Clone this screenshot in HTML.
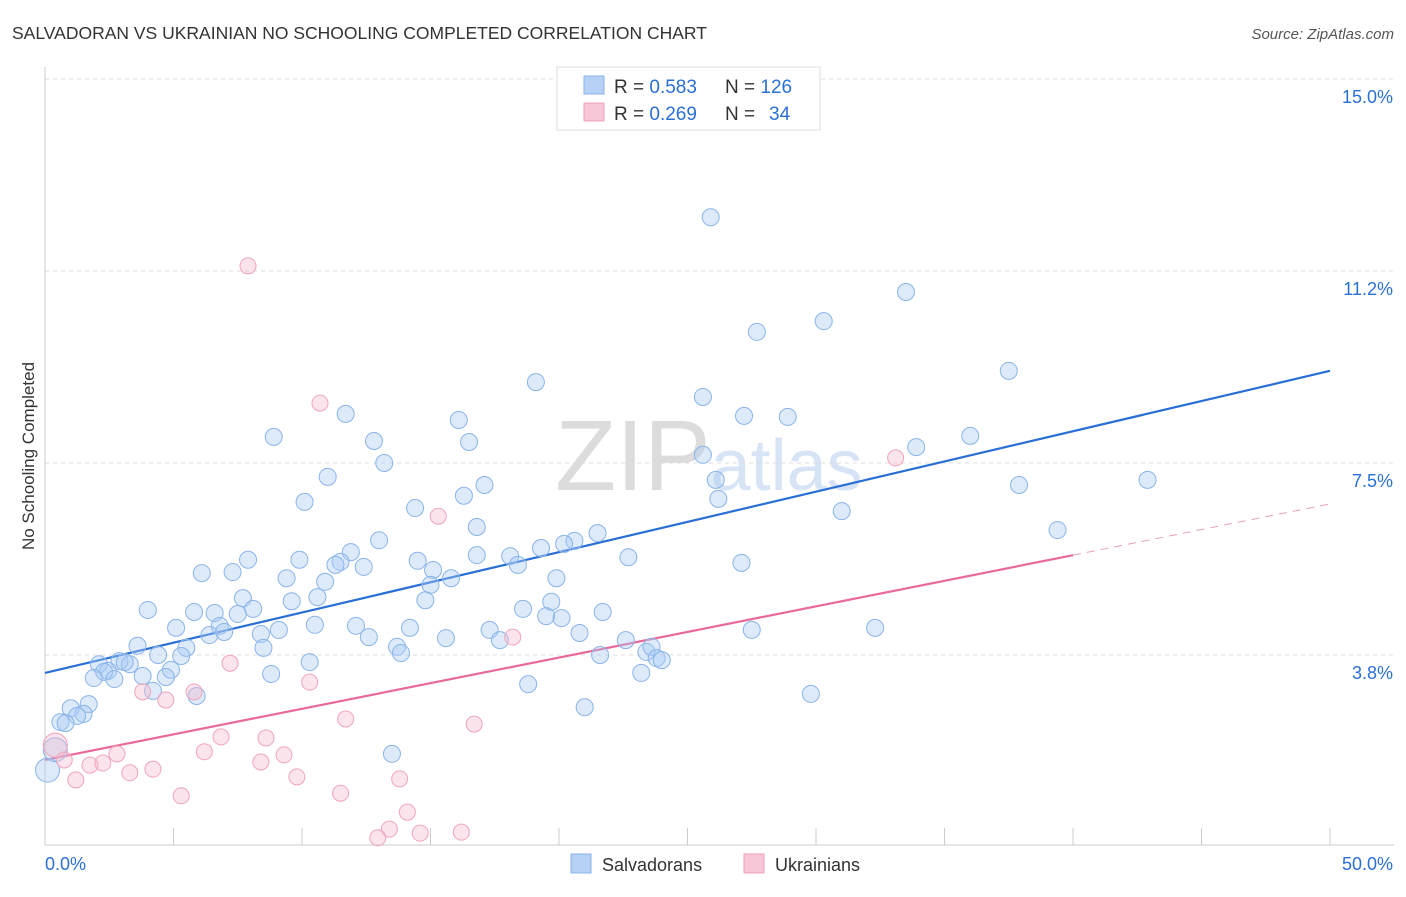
<!DOCTYPE html>
<html><head><meta charset="utf-8"><style>
body{margin:0;background:#fff;font-family:"Liberation Sans",sans-serif}
svg text{font-family:"Liberation Sans",sans-serif}
</style></head><body>
<svg id="chart" width="1406" height="892" viewBox="0 0 1406 892" xmlns="http://www.w3.org/2000/svg">
<text x="12" y="39" font-size="17.5" fill="#333">SALVADORAN VS UKRAINIAN NO SCHOOLING COMPLETED CORRELATION CHART</text>
<text x="1394" y="39" font-size="15" fill="#555" font-style="italic" text-anchor="end">Source: ZipAtlas.com</text>
<text x="555" y="490" font-size="100" fill="#dcdcdc" font-family="Liberation Serif">ZIP<tspan fill="#d6e4f5" font-family="Liberation Sans" font-size="72">atlas</tspan></text>
<text transform="translate(34,456) rotate(-90)" font-size="17" fill="#333" text-anchor="middle">No Schooling Completed</text>
<g id="grid"></g><g id="axes"></g><g id="trends"></g><g id="pts"></g>
<g>
<rect x="557" y="67" width="263" height="63" fill="#fff" stroke="#ddd"/>
<rect x="584" y="76" width="20" height="18" fill="#b7d0f5" stroke="#8ab4e8"/>
<text x="614" y="93" font-size="19" fill="#333">R = <tspan fill="#2a6fd6">0.583</tspan></text>
<text x="725" y="93" font-size="19" fill="#333">N = <tspan fill="#2a6fd6">126</tspan></text>
<rect x="584" y="103" width="20" height="18" fill="#f8c6d6" stroke="#f0a0b8"/>
<text x="614" y="120" font-size="19" fill="#333">R = <tspan fill="#2a6fd6">0.269</tspan></text>
<text x="725" y="120" font-size="19" fill="#333">N = <tspan x="769" fill="#2a6fd6">34</tspan></text>
</g>
<g>
<rect x="571" y="854" width="20" height="19" fill="#b7d0f5" stroke="#8ab4e8"/>
<text x="602" y="871" font-size="18" fill="#333">Salvadorans</text>
<rect x="744" y="854" width="20" height="19" fill="#f8c6d6" stroke="#f0a0b8"/>
<text x="775" y="871" font-size="18" fill="#333">Ukrainians</text>
</g>
</svg>
<script>
const yTicks=[3.8,7.5,11.2,15.0];
const yTickPos=[3.75,7.5,11.25,15.0];
const xTickLabels=["0.0%","50.0%"];
const blueX=[25.9,33.5,27.7,30.3,37.5,19.1,25.6,27.2,28.9,11.7,16.1,8.9,12.8,16.5,36.0,33.9,13.2,25.6,11.0,26.1,42.9,37.9,17.1,16.3,10.1,26.2,14.4,31.0,16.8,39.4,21.5,13.0,20.6,20.2,19.3,11.9,7.9,9.9,16.8,18.1,22.7,14.5,11.5,11.3,12.4,27.1,18.4,15.1,6.1,7.3,9.4,19.9,15.8,10.9,15.0,7.7,9.6,10.6,14.8,19.7,4.0,5.8,6.6,7.5,8.1,18.6,21.7,19.5,20.1,6.8,5.1,10.5,12.1,14.2,17.3,6.4,6.97,8.4,9.1,12.6,15.6,20.8,27.5,32.3,17.7,22.6,3.6,8.5,5.5,13.7,13.85,4.4,5.3,21.6,23.4,23.6,23.8,24.0,2.1,2.9,3.3,3.1,10.3,2.45,4.9,2.3,1.9,2.7,3.8,4.7,8.8,23.2,18.8,4.2,5.9,29.8,1.7,1.0,21.0,1.5,1.25,0.6,0.8,13.5,0.1,0.4];
const blueY=[12.30,10.84,10.06,10.27,9.30,9.08,8.79,8.42,8.40,8.46,8.34,8.01,7.93,7.91,8.03,7.81,7.50,7.66,7.23,7.17,7.17,7.07,7.07,6.86,6.74,6.80,6.62,6.56,6.25,6.19,6.13,5.99,5.98,5.92,5.84,5.76,5.61,5.61,5.70,5.68,5.66,5.59,5.57,5.51,5.47,5.55,5.51,5.41,5.35,5.37,5.25,5.25,5.25,5.18,5.12,4.86,4.80,4.88,4.82,4.79,4.63,4.59,4.57,4.55,4.65,4.65,4.59,4.51,4.47,4.32,4.28,4.34,4.32,4.28,4.24,4.14,4.20,4.16,4.24,4.10,4.08,4.18,4.24,4.28,4.04,4.04,3.93,3.89,3.89,3.91,3.79,3.75,3.73,3.75,3.81,3.91,3.69,3.65,3.57,3.63,3.57,3.61,3.61,3.44,3.46,3.42,3.30,3.28,3.34,3.32,3.38,3.40,3.18,3.05,2.95,2.99,2.79,2.71,2.73,2.60,2.56,2.44,2.42,1.82,1.50,1.90];
const pinkX=[7.9,10.7,33.1,15.3,18.2,7.2,10.3,5.8,3.8,4.7,11.7,16.7,6.85,8.6,6.2,2.8,9.3,0.4,0.75,1.75,2.25,8.4,4.2,3.3,1.2,9.8,13.8,5.3,11.5,14.1,13.4,14.6,12.95,16.2];
const pinkY=[11.35,8.67,7.60,6.46,4.10,3.59,3.22,3.03,3.03,2.87,2.50,2.40,2.15,2.13,1.86,1.82,1.80,1.99,1.70,1.60,1.64,1.66,1.52,1.45,1.31,1.37,1.33,1.00,1.05,0.68,0.35,0.27,0.18,0.29];
const blueTrend=[3.40,9.30];   // y at x=0, x=50
const pinkTrend=[1.70,6.70];   // y at x=0, x=50
const pinkSolidEnd=40;
const NS="http://www.w3.org/2000/svg";
const X=v=>45+v*25.7, Y=v=>847-v*51.2;
function mk(t,a,p){const e=document.createElementNS(NS,t);for(const k in a)e.setAttribute(k,a[k]);p.appendChild(e);return e;}
const grid=document.getElementById('grid'),axes=document.getElementById('axes');
yTickPos.forEach((v,i)=>{
 const l=mk('line',{x1:45,x2:1394,y1:Y(v),y2:Y(v),stroke:'#ddd','stroke-dasharray':'4,4'},grid);
 
 
 const t=mk('text',{x:1393,y:Y(v)+24,'font-size':18,fill:'#2a6fd6','text-anchor':'end'},axes);
 t.textContent=yTicks[i].toFixed(1)+'%';
 
 
});
mk('line',{x1:45,x2:45,y1:67,y2:845,stroke:'#ccc'},axes);
mk('line',{x1:45,x2:1394,y1:845,y2:845,stroke:'#ccc'},axes);
for(let i=0;i<=10;i++){const tk=mk('line',{x1:X(i*5),x2:X(i*5),y1:828,y2:845,stroke:'#ccc'},axes);
 
 }
const xl0=mk('text',{x:45,y:870,'font-size':18,fill:'#2a6fd6'},axes);xl0.textContent=xTickLabels[0];


const xl1=mk('text',{x:1393,y:870,'font-size':18,fill:'#2a6fd6','text-anchor':'end'},axes);xl1.textContent=xTickLabels[1];


const pts=document.getElementById('pts');
function dot(x,y,r,f,s,n){const c=mk('circle',{cx:X(x),cy:Y(y),r:r,fill:f,stroke:s,'stroke-width':1},pts);
 
 }
blueX.forEach((x,i)=>dot(x,blueY[i],(i>=blueX.length-2)?12:8.5,'rgba(170,202,242,0.4)','#8ab4ea','salvadoran-point'));
pinkX.forEach((x,i)=>dot(x,pinkY[i],i==17?12:8,'rgba(246,188,206,0.4)','#f0a4bd','ukrainian-point'));
const tr=document.getElementById('trends');
const b=mk('line',{x1:X(0),y1:Y(blueTrend[0]),x2:X(50),y2:Y(blueTrend[1]),stroke:'#2a6fd6','stroke-width':2.2},tr);


const pe=pinkTrend[0]+(pinkTrend[1]-pinkTrend[0])*pinkSolidEnd/50;
const p1=mk('line',{x1:X(0),y1:Y(pinkTrend[0]),x2:X(pinkSolidEnd),y2:Y(pe),stroke:'#e8699a','stroke-width':2.2},tr);


const p2=mk('line',{x1:X(pinkSolidEnd),y1:Y(pe),x2:X(50),y2:Y(pinkTrend[1]),stroke:'#e8a0b8','stroke-width':1,'stroke-dasharray':'8,6'},tr);


</script>
</body></html>
